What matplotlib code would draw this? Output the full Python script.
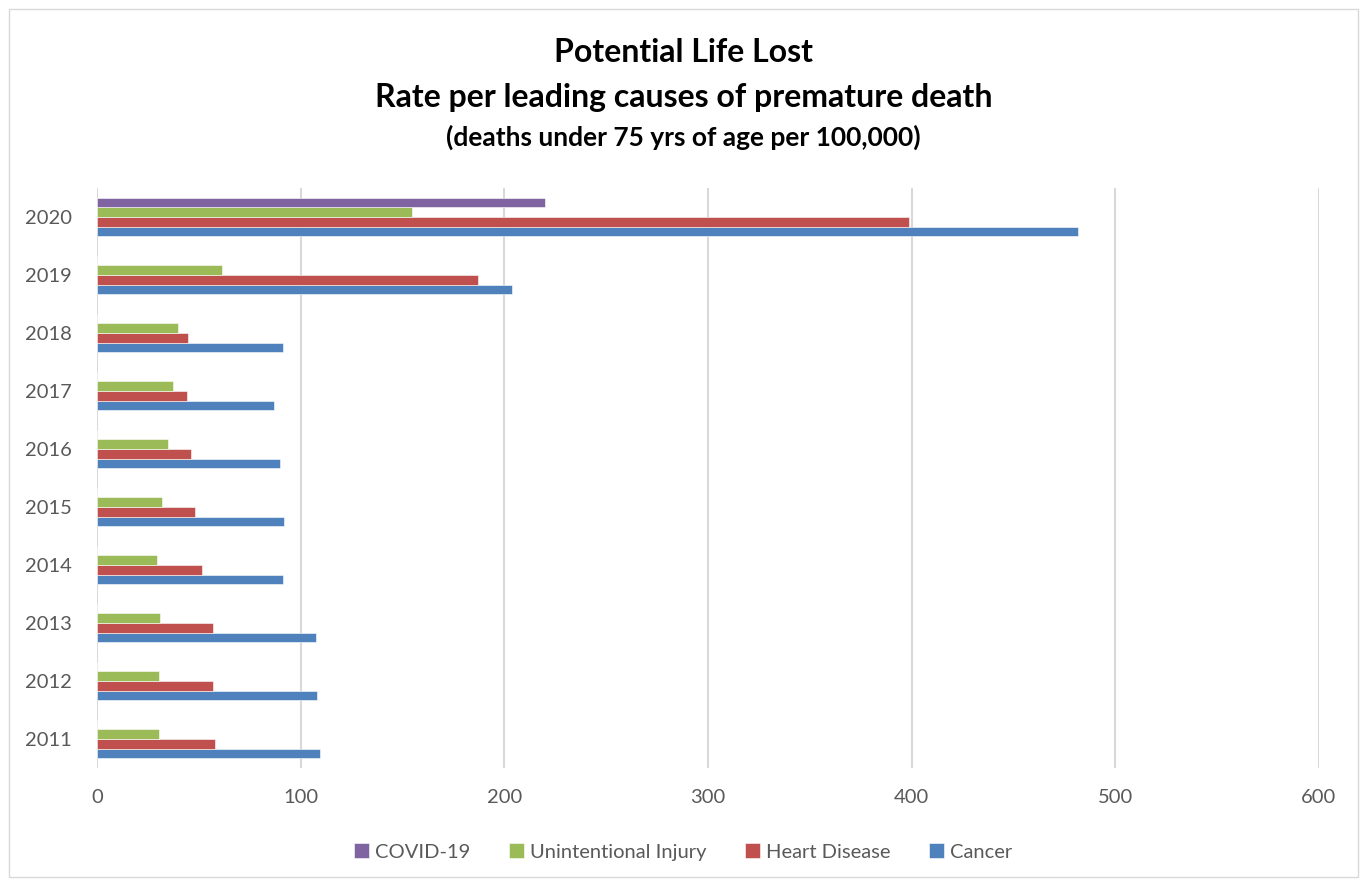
import numpy as np
import matplotlib.pyplot as plt
from matplotlib.patches import Rectangle

plt.rcParams['font.family'] = ['Lato', 'DejaVu Sans']

years = ['2011', '2012', '2013', '2014', '2015', '2016', '2017', '2018', '2019', '2020']
cancer = [109.5, 108.2, 107.5, 91.5, 92.0, 89.7, 86.9, 91.1, 204.0, 481.6]
heart = [57.7, 56.8, 57.1, 51.4, 48.1, 46.1, 44.0, 44.5, 187.0, 398.6]
injury = [30.3, 30.3, 31.1, 29.5, 32.1, 34.7, 37.3, 39.6, 61.4, 154.6]
covid = [0, 0, 0, 0, 0, 0, 0, 0, 0, 219.8]

series = [('Cancer', cancer, '#4f81bd'),
          ('Heart Disease', heart, '#c0504d'),
          ('Unintentional Injury', injury, '#9bbb59'),
          ('COVID-19', covid, '#8064a2')]

W, H = 1367, 886
fig = plt.figure(figsize=(W / 100, H / 100), dpi=100)
fig.patches.append(Rectangle((9 / W, 9 / H), 1 - 18 / W, 1 - 18 / H, transform=fig.transFigure,
                             fill=False, edgecolor='#d9d9d9', lw=1))

ax = fig.add_axes([97 / W, 1 - 768 / H, (1319 - 97) / W, (768 - 188) / H])

y = np.arange(len(years))
bh = 0.167
handles = {}
for i, (name, vals, col) in enumerate(series):
    pos = y + (i - 1.5) * bh
    handles[name] = ax.barh(pos, vals, height=bh, color=col, edgecolor='white', linewidth=0.4, zorder=3)

ax.set_xlim(0, 600)
ax.set_ylim(-0.5, 9.5)
ax.set_xticks(np.arange(0, 601, 100))
ax.set_yticks(y)
ax.set_yticklabels(years)
ax.grid(axis='x', color='#d9d9d9', lw=1.5, zorder=0)
for s in ax.spines.values():
    s.set_visible(False)
ax.tick_params(length=0, labelsize=14.5, colors='#595959')
ax.tick_params(axis='y', pad=18)
ax.tick_params(axis='x', pad=15)

fig.text(0.5, 1 - 52 / H, 'Potential Life Lost', ha='center', va='center',
         fontsize=23, fontweight='bold')
fig.text(0.5, 1 - 97 / H, 'Rate per leading causes of premature death', ha='center', va='center',
         fontsize=23, fontweight='bold')
fig.text(0.5, 1 - 137 / H, '(deaths under 75 yrs of age per 100,000)', ha='center', va='center',
         fontsize=19, fontweight='bold')

order = ['COVID-19', 'Unintentional Injury', 'Heart Disease', 'Cancer']
leg = fig.legend([handles[n] for n in order], order, loc='center', bbox_to_anchor=(683 / W, 1 - 852 / H),
                 ncol=4, frameon=False, fontsize=14.5, handlelength=0.75, handleheight=0.75,
                 handletextpad=0.3, columnspacing=1.9)
for t in leg.get_texts():
    t.set_color('#595959')

fig.savefig('out.png', dpi=100)
